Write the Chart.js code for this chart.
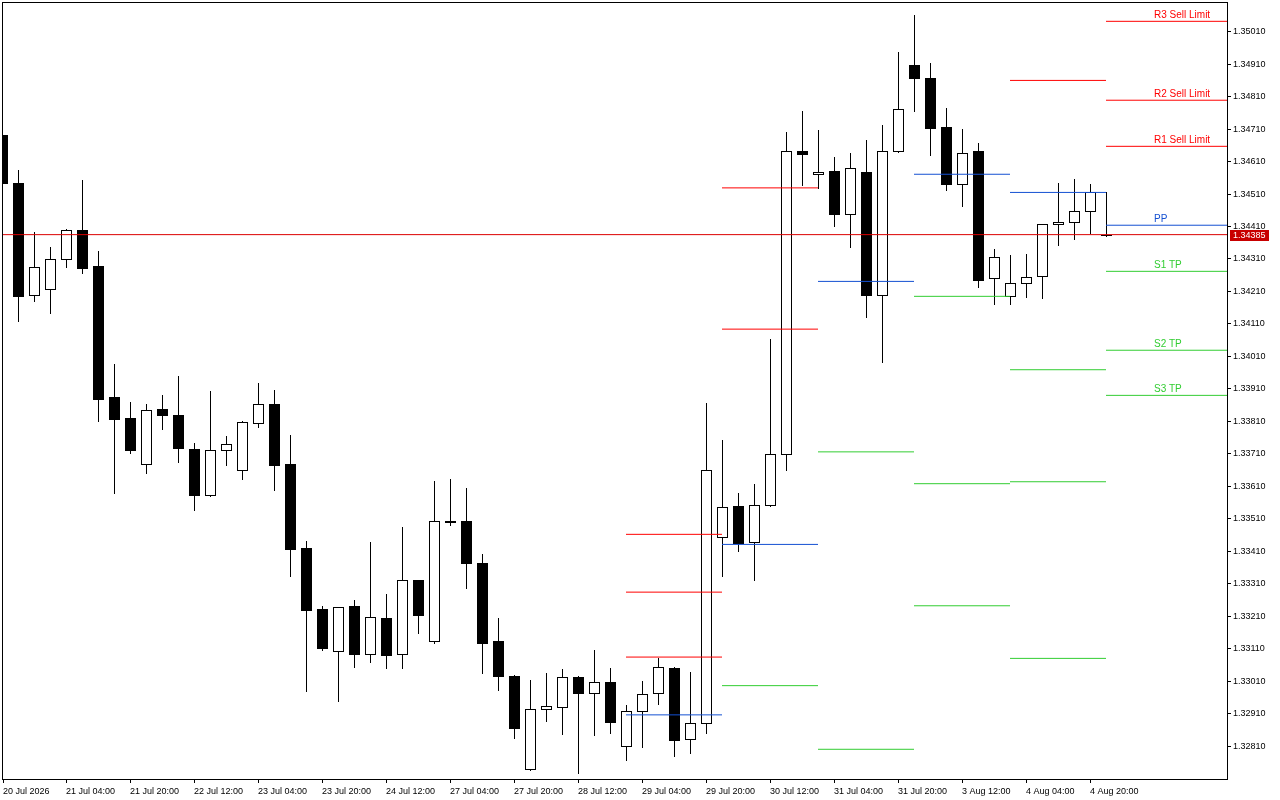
<!DOCTYPE html>
<html>
<head>
<meta charset="utf-8">
<script src="https://cdn.jsdelivr.net/npm/chart.js@4.4.1/dist/chart.umd.min.js"></script>
<style>
html, body { margin: 0; padding: 0; background: #fff; }
</style>
</head>
<body>
<canvas id="chart" width="1280" height="800"></canvas>
<script>
// H4 bars, first one is 20 Jul 12:00, last one 5 Aug 00:00
var opens = [1.34692, 1.34544, 1.34198, 1.34217, 1.34309, 1.34399, 1.34288, 1.33885, 1.33820, 1.33678,
  1.33848, 1.33831, 1.33725, 1.33582, 1.33721, 1.33659, 1.33804, 1.33863, 1.33679, 1.33420,
  1.33232, 1.33102, 1.33241, 1.33095, 1.33204, 1.33092, 1.33320, 1.33132, 1.33503, 1.33502,
  1.33373, 1.33132, 1.33025, 1.32738, 1.32923, 1.32931, 1.33022, 1.32972, 1.33006, 1.32809,
  1.32917, 1.32972, 1.33050, 1.32831, 1.32880, 1.33453, 1.33548, 1.33437, 1.33551, 1.33708,
  1.34643, 1.34571, 1.34581, 1.34449, 1.34578, 1.34200, 1.34642, 1.34907, 1.34867, 1.34717,
  1.34540, 1.34643, 1.34250, 1.34195, 1.34235, 1.34257, 1.34417, 1.34423, 1.34457, 1.34385];
var highs = [1.34695, 1.34584, 1.34392, 1.34347, 1.34402, 1.34553, 1.34334, 1.33987, 1.33870, 1.33863,
  1.33891, 1.33950, 1.33743, 1.33903, 1.33765, 1.33811, 1.33928, 1.33906, 1.33768, 1.33441,
  1.33240, 1.33238, 1.33260, 1.33438, 1.33278, 1.33484, 1.33322, 1.33626, 1.33632, 1.33605,
  1.33401, 1.33204, 1.33029, 1.33013, 1.33035, 1.33047, 1.33026, 1.33106, 1.33050, 1.32936,
  1.33010, 1.33082, 1.33054, 1.33038, 1.33866, 1.33752, 1.33588, 1.33617, 1.34064, 1.34701,
  1.34766, 1.34707, 1.34624, 1.34636, 1.34676, 1.34723, 1.34947, 1.35061, 1.34914, 1.34775,
  1.34710, 1.34667, 1.34341, 1.34322, 1.34325, 1.34418, 1.34544, 1.34556, 1.34541, 1.34515];
var lows = [1.34540, 1.34120, 1.34182, 1.34145, 1.34286, 1.34268, 1.33812, 1.33590, 1.33713, 1.33652,
  1.33787, 1.33686, 1.33538, 1.33580, 1.33676, 1.33633, 1.33793, 1.33599, 1.33334, 1.32980,
  1.33106, 1.32950, 1.33054, 1.33070, 1.33051, 1.33051, 1.33159, 1.33128, 1.33492, 1.33298,
  1.33036, 1.32983, 1.32836, 1.32737, 1.32888, 1.32848, 1.32728, 1.32845, 1.32851, 1.32768,
  1.32808, 1.32940, 1.32780, 1.32789, 1.32851, 1.33335, 1.33412, 1.33322, 1.33550, 1.33661,
  1.34539, 1.34528, 1.34413, 1.34348, 1.34132, 1.33994, 1.34641, 1.34767, 1.34631, 1.34523,
  1.34474, 1.34223, 1.34170, 1.34170, 1.34194, 1.34191, 1.34354, 1.34372, 1.34391, 1.34382];
var closes = [1.34543, 1.34197, 1.34284, 1.34309, 1.34398, 1.34283, 1.33880, 1.33818, 1.33723, 1.33844,
  1.33830, 1.33729, 1.33584, 1.33721, 1.33740, 1.33808, 1.33862, 1.33676, 1.33418, 1.33230,
  1.33113, 1.33237, 1.33094, 1.33206, 1.33091, 1.33320, 1.33214, 1.33502, 1.33501, 1.33373,
  1.33128, 1.33025, 1.32866, 1.32923, 1.32932, 1.33022, 1.32972, 1.33006, 1.32883, 1.32917,
  1.32969, 1.33052, 1.32829, 1.32880, 1.33659, 1.33545, 1.33436, 1.33551, 1.33708, 1.34642,
  1.34634, 1.34578, 1.34449, 1.34589, 1.34200, 1.34642, 1.34772, 1.34868, 1.34714, 1.34542,
  1.34636, 1.34246, 1.34315, 1.34235, 1.34254, 1.34417, 1.34423, 1.34457, 1.34515, 1.34385];

// time axis: bar index of each tick and its text
var tickIdx = [0, 4, 8, 12, 16, 20, 24, 28, 32, 36, 40, 44, 48, 52, 56, 60, 64, 68];
var tickLabels = ['20 Jul 2026', '21 Jul 04:00', '21 Jul 20:00', '22 Jul 12:00', '23 Jul 04:00',
  '23 Jul 20:00', '24 Jul 12:00', '27 Jul 04:00', '27 Jul 20:00', '28 Jul 12:00', '29 Jul 04:00',
  '29 Jul 20:00', '30 Jul 12:00', '31 Jul 04:00', '31 Jul 20:00', '3 Aug 12:00', '4 Aug 04:00',
  '4 Aug 20:00'];

var priceTicks = [1.35010, 1.34910, 1.34810, 1.34710, 1.34610, 1.34510, 1.34410, 1.34310, 1.34210,
  1.34110, 1.34010, 1.33910, 1.33810, 1.33710, 1.33610, 1.33510, 1.33410, 1.33310, 1.33210,
  1.33110, 1.33010, 1.32910, 1.32810];

// daily pivot levels, one value per day (bar index where the day starts)
var dayStart = [39, 45, 51, 57, 63, 69];
var r3 = [1.33462, null, null, null, null, 1.35042];
var r2 = [1.33284, 1.34529, null, null, null, 1.34799];
var r1 = [1.33084, 1.34094, null, null, 1.34860, 1.34657];
var pp = [1.32906, 1.33431, 1.34241, 1.34571, 1.34515, 1.34414];
var s1 = [null, 1.32996, 1.33716, 1.34195, 1.33969, 1.34272];
var s2 = [null, null, 1.32800, 1.33618, 1.33624, 1.34029];
var s3 = [null, null, null, 1.33242, 1.33080, 1.33890];
var levelLabels = ['R3 Sell Limit', 'R2 Sell Limit', 'R1 Sell Limit', 'PP', 'S1 TP', 'S2 TP', 'S3 TP'];

var lastPrice = 1.34385;

var xMin = 0.0625, xMax = 76.5625;
var yMin = 1.327085, yMax = 1.351015;
var RED = '#ff0000', BLUE = '#1450d2', GREEN = '#32cd32';
var FONT = "'Liberation Sans', Arial, sans-serif";

var levels = [r3, r2, r1, pp, s1, s2, s3];
var levelColors = [RED, RED, RED, BLUE, GREEN, GREEN, GREEN];

function levelData(vals) {
  var out = [];
  for (var d = 0; d < dayStart.length; d++) {
    var end = d + 1 < dayStart.length ? dayStart[d + 1] : xMax;
    if (vals[d] !== null) {
      out.push({x: dayStart[d], y: vals[d]});
      out.push({x: end, y: vals[d]});
    }
    out.push({x: end, y: null});
  }
  return out;
}

var datasets = levels.map(function(vals, k) {
  return {
    label: levelLabels[k],
    data: levelData(vals),
    borderColor: levelColors[k],
    borderWidth: 1,
    pointRadius: 0,
    spanGaps: false,
    tension: 0
  };
});
datasets.push({
  label: 'price',
  data: [{x: xMin, y: lastPrice}, {x: xMax, y: lastPrice}],
  borderColor: '#dc0000',
  borderWidth: 1,
  pointRadius: 0
});

var candlePlugin = {
  id: 'candles',
  beforeDatasetsDraw: function(chart) {
    var ctx = chart.ctx, xs = chart.scales.x, ys = chart.scales.y, a = chart.chartArea;
    ctx.save();
    ctx.beginPath();
    ctx.rect(a.left, a.top, a.right - a.left, a.bottom - a.top);
    ctx.clip();
    for (var i = 0; i < opens.length; i++) {
      var cx = Math.round(xs.getPixelForValue(i));
      var yh = Math.round(ys.getPixelForValue(highs[i]));
      var yl = Math.round(ys.getPixelForValue(lows[i]));
      var yo = Math.round(ys.getPixelForValue(opens[i]));
      var yc = Math.round(ys.getPixelForValue(closes[i]));
      var top = Math.min(yo, yc), bot = Math.max(yo, yc);
      ctx.fillStyle = '#000';
      ctx.fillRect(cx, yh, 1, yl - yh + 1);
      if (closes[i] >= opens[i]) {
        ctx.fillStyle = '#fff';
        ctx.fillRect(cx - 5, top, 11, bot - top + 1);
        ctx.strokeStyle = '#000';
        ctx.lineWidth = 1;
        if (bot - top < 1) {
          ctx.fillStyle = '#000';
          ctx.fillRect(cx - 5, top, 11, 1);
        } else {
          ctx.strokeRect(cx - 5 + 0.5, top + 0.5, 10, bot - top);
        }
      } else {
        ctx.fillStyle = '#000';
        ctx.fillRect(cx - 5, top, 11, bot - top + 1);
      }
    }
    ctx.restore();
  },
  afterDraw: function(chart) {
    var ctx = chart.ctx, xs = chart.scales.x, ys = chart.scales.y, a = chart.chartArea;
    ctx.save();
    // frame
    ctx.strokeStyle = '#000';
    ctx.lineWidth = 1;
    ctx.strokeRect(a.left - 0.5, a.top + 0.5, a.right - a.left + 1, a.bottom - a.top);
    // labels of today's levels
    var last = dayStart.length - 1;
    var lx = Math.round(xs.getPixelForValue(dayStart[last] + 3));
    ctx.font = '10px ' + FONT;
    ctx.textAlign = 'left';
    ctx.textBaseline = 'alphabetic';
    levels.forEach(function(vals, k) {
      if (vals[last] === null) return;
      var y = Math.round(ys.getPixelForValue(vals[last]));
      ctx.fillStyle = levelColors[k];
      ctx.fillText(levelLabels[k], lx, y - 3);
    });
    // last price box on the axis
    var py = Math.round(ys.getPixelForValue(lastPrice));
    ctx.fillStyle = '#c80000';
    ctx.fillRect(a.right + 3, py - 5, 39, 11);
    ctx.fillStyle = '#fff';
    ctx.font = '9px ' + FONT;
    ctx.textBaseline = 'middle';
    ctx.fillText(lastPrice.toFixed(5), a.right + 6, py + 0.5);
    ctx.restore();
  }
};

var chart = new Chart(document.getElementById('chart'), {
  type: 'line',
  data: {datasets: datasets},
  plugins: [candlePlugin],
  options: {
    responsive: false,
    animation: false,
    events: [],
    layout: {padding: {left: 3, top: 2, right: 0, bottom: 0}},
    plugins: {legend: {display: false}, tooltip: {enabled: false}},
    scales: {
      x: {
        type: 'linear',
        position: 'bottom',
        min: xMin,
        max: xMax,
        bounds: 'data',
        afterBuildTicks: function(s) {
          s.ticks = tickIdx.map(function(i) { return {value: Math.max(i, xMin)}; });
        },
        afterFit: function(s) {
          s.height = 21;
          s.paddingLeft = 0;
          s.paddingRight = 0;
        },
        grid: {drawOnChartArea: false, drawTicks: true, tickLength: 4, color: '#000'},
        border: {display: false},
        ticks: {
          autoSkip: false,
          maxRotation: 0,
          align: 'start',
          padding: 3,
          color: '#000',
          font: {family: FONT, size: 9},
          callback: function(v, i) { return tickLabels[i]; }
        }
      },
      y: {
        type: 'linear',
        position: 'right',
        min: yMin,
        max: yMax,
        bounds: 'data',
        afterBuildTicks: function(s) {
          s.ticks = priceTicks.map(function(v) { return {value: v}; });
        },
        afterFit: function(s) {
          s.width = 53;
          s.paddingTop = 0;
          s.paddingBottom = 0;
        },
        grid: {drawOnChartArea: false, drawTicks: true, tickLength: 4, color: '#000'},
        border: {display: false},
        ticks: {
          padding: 2,
          color: '#000',
          font: {family: FONT, size: 9},
          callback: function(v, i) { return priceTicks[i].toFixed(5); }
        }
      }
    }
  }
});
</script>
</body>
</html>
